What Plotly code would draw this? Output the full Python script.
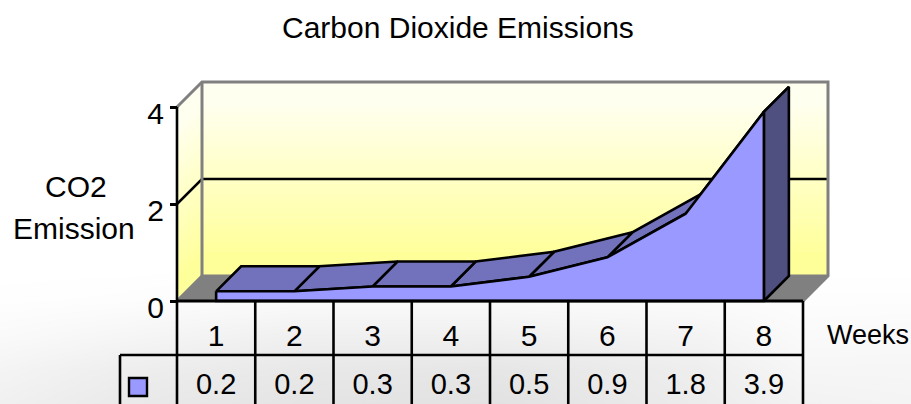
import plotly.graph_objects as go

weeks = [1, 2, 3, 4, 5, 6, 7, 8]
emissions = [0.2, 0.2, 0.3, 0.3, 0.5, 0.9, 1.8, 3.9]
y_ticks = [0, 2, 4]
title_text = "Carbon Dioxide Emissions"
y_title_lines = ["CO2", "Emission"]
x_title = "Weeks"

# page geometry (pixels) -> data scale
W, H = 911, 404
PX0 = 177.0      # left edge of category 1
PXW = 78.25      # pixels per week
PY0 = 301.0      # pixel row of value 0
PYU = 48.5       # pixels per unit
DEPTH = 25.0

def dx(px):
    return (px - PX0) / PXW + 0.5

def dy(py):
    return (PY0 - py) / PYU

DX = DEPTH / PXW
DY = DEPTH / PYU
x_lo, x_hi = 0.5, 8.5
FONT = "Liberation Sans"
BLACK = "#000000"
GREY = "#808080"

fig = go.Figure()

# page background
bg_x = [dx(p) for p in (0, 120, 300, 500, 700, 800, 911)]
bg_y = [dy(p) for p in (404, 370, 335, 300, 270, 240, 0)]
bg_z = [
    [240, 234, 228, 226, 236, 242, 244],
    [244, 238, 232, 230, 238, 246, 246],
    [250, 246, 240, 240, 244, 250, 249],
    [254, 253, 250, 250, 251, 253, 253],
    [255, 255, 254, 254, 254, 255, 255],
    [255, 255, 255, 255, 255, 255, 255],
    [255, 255, 255, 255, 255, 255, 255],
]
fig.add_trace(go.Heatmap(x=bg_x, y=bg_y, z=bg_z, zmin=0, zmax=255, zsmooth="best",
                         colorscale=[[0, "#000000"], [1, "#ffffff"]], showscale=False,
                         hoverinfo="skip"))

def poly(xs, ys, fill, line=None, width=0):
    fig.add_trace(go.Scatter(x=xs, y=ys, mode="lines", fill="toself", fillcolor=fill,
                             line=dict(color=line or fill, width=width),
                             hoverinfo="skip", showlegend=False))

def seg(xs, ys, color, width=2.5):
    fig.add_trace(go.Scatter(x=xs, y=ys, mode="lines", line=dict(color=color, width=width),
                             hoverinfo="skip", showlegend=False))

# walls, banded gradient
N = 40
top_rgb = (255, 255, 240)
bot_rgb = (255, 255, 153)
ymax = y_ticks[-1]
for i in range(N):
    a = ymax * i / N
    b = ymax * (i + 1) / N
    t = max(0.0, ((i + 0.5) / N - 0.1) / 0.8)
    t = min(1.0, t)
    c = tuple(round(bot_rgb[k] + (top_rgb[k] - bot_rgb[k]) * t) for k in range(3))
    col = f"rgb({c[0]},{c[1]},{c[2]})"
    b2 = b + 0.01
    poly([x_lo + DX, x_hi + DX, x_hi + DX, x_lo + DX], [a + DY, a + DY, b2 + DY, b2 + DY], col)
    poly([x_lo, x_lo + DX, x_lo + DX, x_lo], [a, a + DY, b2 + DY, b2], col)

# floor
poly([x_lo, x_hi, x_hi + DX, x_lo + DX], [0, 0, DY, DY], GREY)

# gridline at 2
seg([x_lo, x_lo + DX, x_hi + DX], [2, 2 + DY, 2 + DY], BLACK, 2.5)

# wall edges
seg([x_lo, x_lo + DX, x_hi + DX, x_hi + DX, x_hi],
    [ymax, ymax + DY, ymax + DY, DY, 0], GREY, 3)
seg([x_lo, x_lo + DX, x_hi + DX], [0, DY, DY], GREY, 3)
seg([x_lo + DX, x_lo + DX], [DY, ymax + DY], GREY, 3)

# area: top faces, back to front
for i in range(len(weeks) - 2, -1, -1):
    x0, x1 = weeks[i], weeks[i + 1]
    y0, y1 = emissions[i], emissions[i + 1]
    poly([x0, x1, x1 + DX, x0 + DX, x0], [y0, y1, y1 + DY, y0 + DY, y0],
         "#7272BC", BLACK, 2.6)
# right end face
poly([weeks[-1], weeks[-1] + DX, weeks[-1] + DX, weeks[-1], weeks[-1]],
     [0, DY, emissions[-1] + DY, emissions[-1], 0], "#4F4F80", BLACK, 2.6)
# front face
poly(weeks + [weeks[-1], weeks[0], weeks[0]],
     emissions + [0, 0, emissions[0]], "#9999FF", BLACK, 2.6)

# front axis and data table grid
row1 = dy(355)
row2 = dy(405)
seg([x_lo, x_lo], [row2, ymax], BLACK, 2.6)
seg([x_lo, x_hi], [0, 0], BLACK, 3.2)
seg([dx(120), x_hi], [row1, row1], BLACK, 2.6)
seg([dx(120), dx(120)], [row1, row2], BLACK, 2.6)
for w in weeks:
    seg([w + 0.5, w + 0.5], [0, row2], BLACK, 2.6)

# table values + legend key
fig.add_trace(go.Scatter(x=weeks, y=[dy(387)] * len(weeks), mode="text",
                         text=[f"{v:.1f}" for v in emissions],
                         textfont=dict(family=FONT, size=29, color=BLACK),
                         hoverinfo="skip", showlegend=False))
fig.add_trace(go.Scatter(x=[dx(138)], y=[dy(387)], mode="markers",
                         marker=dict(symbol="square", size=18, color="#9999FF",
                                     line=dict(color=BLACK, width=2.4)),
                         hoverinfo="skip", showlegend=False))

annots = [
    dict(x=dx(458), y=dy(27), text=title_text, showarrow=False,
         font=dict(family=FONT, size=30, color=BLACK)),
    dict(x=dx(868), y=dy(335), text=x_title, showarrow=False,
         font=dict(family=FONT, size=27, color=BLACK)),
    dict(x=dx(76), y=dy(186), text=y_title_lines[0], showarrow=False,
         font=dict(family=FONT, size=30, color=BLACK)),
    dict(x=dx(74), y=dy(228), text=y_title_lines[1], showarrow=False,
         font=dict(family=FONT, size=30, color=BLACK)),
]

fig.update_layout(
    width=W, height=H, margin=dict(l=0, r=0, t=0, b=0),
    paper_bgcolor="#ffffff", plot_bgcolor="rgba(0,0,0,0)",
    showlegend=False, annotations=annots,
    xaxis=dict(range=[dx(0), dx(W)], domain=[0, 1], anchor="free", position=1 - PY0 / H,
               tickmode="array", tickvals=weeks, ticktext=[str(w) for w in weeks],
               ticks="outside", ticklen=8, tickcolor="rgba(0,0,0,0)",
               tickfont=dict(family=FONT, size=30, color=BLACK),
               showgrid=False, zeroline=False, showline=False),
    yaxis=dict(range=[dy(H), dy(0)], domain=[0, 1], anchor="free", position=PX0 / W,
               tickmode="array", tickvals=y_ticks, ticktext=[str(v) for v in y_ticks],
               ticks="outside", ticklen=7, tickwidth=2.5, tickcolor=BLACK,
               ticklabelshift=6,
               tickfont=dict(family=FONT, size=30, color=BLACK),
               showgrid=False, zeroline=False, showline=False),
)

fig.write_html("out.html", config={"displayModeBar": False, "responsive": False},
               post_script="document.body.style.margin='0';")
